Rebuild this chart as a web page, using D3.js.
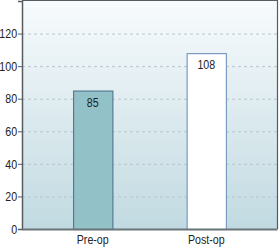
<!DOCTYPE html>
<html>
<head>
<meta charset="utf-8">
<script src="https://cdn.jsdelivr.net/npm/d3@7"></script>
<style>
  body { margin: 0; background: #fff; }
  svg text { font-family: "Liberation Sans", Arial, sans-serif; }
</style>
</head>
<body>
<div id="graph"></div>
<script>
var categories = ["Pre-op", "Post-op"];
var values = [85, 108];
var yTicks = [0, 20, 40, 60, 80, 100, 120];

var width = 279, height = 247;
var margin = {top: 1, right: 2, bottom: 18, left: 22};
var narrow = 'scale(0.82,1)';   // the source font is a condensed one

var svg = d3.select('#graph').append('svg')
    .attr('width', width)
    .attr('height', height);

// background gradient of the plot frame
var defs = svg.append('defs');
var grad = defs.append('linearGradient')
    .attr('id', 'bg').attr('x1', 0).attr('y1', 0).attr('x2', 0).attr('y2', 1);
grad.append('stop').attr('offset', '0%').attr('stop-color', '#f8fbfd');
grad.append('stop').attr('offset', '100%').attr('stop-color', '#c1dae1');

var x = d3.scaleBand()
    .domain(categories)
    .range([margin.left, width - margin.right])
    .paddingInner(0.654)
    .paddingOuter(0.45);

var y = d3.scaleLinear()
    .domain([0, 140])
    .range([height - margin.bottom, margin.top]);

svg.append('rect')
    .attr('x', margin.left)
    .attr('y', margin.top)
    .attr('width', width - margin.right - margin.left)
    .attr('height', y(0) - margin.top)
    .attr('fill', 'url(#bg)');

// dashed grid lines
svg.selectAll('.grid')
    .data(yTicks.filter(function (d) { return d > 0; }))
    .enter().append('line')
    .attr('class', 'grid')
    .attr('x1', margin.left)
    .attr('x2', width - margin.right)
    .attr('y1', function (d) { return y(d) + 0.5; })
    .attr('y2', function (d) { return y(d) + 0.5; })
    .attr('stroke', '#b9c6cc')
    .attr('stroke-dasharray', '3,3');

// frame top and right
svg.append('path')
    .attr('d', 'M' + margin.left + ',' + (margin.top - 0.5) + 'H' + (width - margin.right + 0.5) + 'V' + y(0))
    .attr('fill', 'none')
    .attr('stroke', '#555c60')
    .attr('stroke-width', 1.2);

var barFill = ['#93c1c8', '#ffffff'];
var barStroke = ['#557d92', '#7a9cc0'];

svg.selectAll('.bar')
    .data(values)
    .enter().append('rect')
    .attr('class', 'bar')
    .attr('x', function (d, i) { return x(categories[i]) + 0.5; })
    .attr('width', x.bandwidth())
    .attr('y', function (d) { return y(d) + 0.5; })
    .attr('height', function (d) { return y(0) - y(d); })
    .attr('fill', function (d, i) { return barFill[i]; })
    .attr('stroke', function (d, i) { return barStroke[i]; })
    .attr('stroke-width', 1.2);

svg.selectAll('.val')
    .data(values)
    .enter().append('g')
    .attr('class', 'val')
    .attr('transform', function (d, i) {
        return 'translate(' + (x(categories[i]) + x.bandwidth() / 2) + ',' + (y(d) + 16) + ')';
    })
    .append('text')
    .attr('transform', narrow)
    .attr('text-anchor', 'middle')
    .attr('font-size', 13)
    .attr('fill', '#222')
    .text(function (d) { return d; });

// y axis
var yAxis = svg.append('g')
    .attr('transform', 'translate(' + margin.left + ',0)')
    .call(d3.axisLeft(y).tickValues(yTicks).tickSize(4).tickPadding(2));
yAxis.select('.domain').attr('stroke', '#555c60').attr('stroke-width', 1.5);
yAxis.selectAll('.tick line').attr('stroke', '#555c60');
yAxis.selectAll('.tick text').attr('font-size', 13).attr('fill', '#222')
    .attr('transform', narrow);

// x axis
var xAxis = svg.append('g')
    .attr('transform', 'translate(0,' + y(0) + ')')
    .call(d3.axisBottom(x).tickSize(0).tickPadding(6));
xAxis.select('.domain').attr('stroke', '#6b767b').attr('stroke-width', 2);
xAxis.selectAll('.tick text').attr('font-size', 13).attr('fill', '#222')
    .attr('transform', narrow);
</script>
</body>
</html>
